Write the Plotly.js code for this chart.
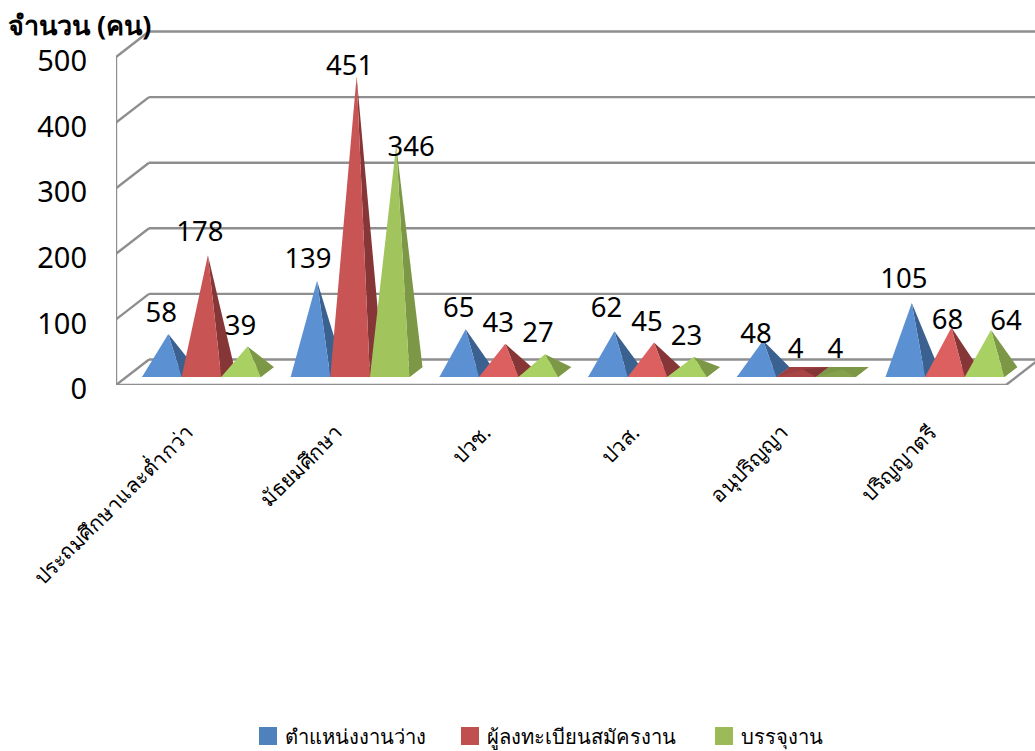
<!DOCTYPE html>
<html><head><meta charset="utf-8"><script src="https://cdn.plot.ly/plotly-3.0.1.min.js"></script>
<style>html,body{margin:0;padding:0;background:#fff}</style></head><body><div id="c" style="width:1035px;height:751px"></div>
<script>
const categories = ["ประถมศึกษาและต่ำกว่า","มัธยมศึกษา","ปวช.","ปวส.","อนุปริญญา","ปริญญาตรี"];
const vacancies = [58,139,65,62,48,105];
const applicants = [178,451,43,45,4,68];
const placed = [39,346,27,23,4,64];
const seriesNames = ["ตำแหน่งงานว่าง","ผู้ลงทะเบียนสมัครงาน","บรรจุงาน"];
const yTicks = [0,100,200,300,400,500];

// plot geometry (px -> data factors)
const PXX = 148.7, PXY = 0.656, PLOT_W = 919, PLOT_H = 367, PLOT_L = 116, PLOT_T = 18;
const px = p => p / PXX, py = p => p / PXY;
const barW = px(39.6), depthX = px(13), depthY = py(10), floorY = py(8);
const groupLeft = px(142 - 201.25);
const wallBackX = px(33), wallBackY = py(25.5);
const xMin = px(116 - 201.25), xMax = px(1035 - 201.25);
const FONT = "'Noto Sans', 'Open Sans', sans-serif";
const GRID = "#8e8e8e";

// label nudges in px, by "series-group"
const nudge = {"0-1":[-2,-1],"0-3":[-1,-2],"0-4":[0,14],"0-5":[-1,-3],"1-0":[-1,-2],"1-1":[0,11],"1-5":[3,13],"2-1":[22,23],"2-5":[22,12]};

const series = [
 {v:vacancies, f:"#5b90d2", fs:"#5b90d2", fl:"#5b90d2", s:"#3b6190", b:"#3b6190", leg:"#4f81bd"},
 {v:applicants, f:"#c95454", fs:"#dc6060", fl:"#a84444", s:"#863636", b:"#9e3f3f", leg:"#c0504d"},
 {v:placed, f:"#a2c45c", fs:"#a9d063", fl:"#83a24b", s:"#7c9846", b:"#7c9846", leg:"#9bbb59"}
];
const traces = [];
const poly = (x,y,c)=>({x,y,mode:"lines",fill:"toself",fillcolor:c,line:{width:0,color:c},showlegend:false,hoverinfo:"skip",type:"scatter"});
series.forEach((S, k) => {
  S.lx=[];S.ly=[];S.lt=[];
  S.v.forEach((val,i) => {
    const x0 = i + groupLeft + k*barW, x1 = x0 + barW;
    const ax = (x0+x1)/2 + depthX/2, ay = floorY + depthY/2 + val;
    const front = val < 10 ? S.fl : val < 100 ? S.fs : S.f;
    traces.push(
      poly([x0,x1,x1+depthX,x0+depthX,x0],[floorY,floorY,floorY+depthY,floorY+depthY,floorY],S.b),
      poly([x1,x1+depthX,ax,x1],[floorY,floorY+depthY,ay,floorY],S.s),
      poly([x0,x1,ax,x0],[floorY,floorY,ay,floorY],front));
    const n = nudge[k+"-"+i] || [0,0];
    S.lx.push(ax - px(7) + px(n[0])); S.ly.push(ay + py(5) - py(n[1])); S.lt.push(String(val));
  });
});
series.forEach(S=>traces.push({x:S.lx,y:S.ly,text:S.lt,mode:"text",textposition:"top center",textfont:{family:FONT,size:27.5,color:"#000"},showlegend:false,hoverinfo:"skip",type:"scatter",cliponaxis:false}));

const shapes = [];
const ln=(x0,y0,x1,y1)=>shapes.push({type:"line",xref:"x",yref:"y",x0,y0,x1,y1,layer:"below",line:{color:GRID,width:2.4}});
yTicks.forEach(t=>{
  ln(xMin,t,xMin+wallBackX,t+wallBackY);
  ln(xMin+wallBackX,t+wallBackY,xMax+1,t+wallBackY);
});
ln(xMin,0,xMin,500);
const floorRight = px(1006-201.25);
ln(xMin,0,floorRight,0);
ln(floorRight,0,floorRight+wallBackX,wallBackY);

// legend keys and labels, placed in page pixels
const paperX = p => (p - PLOT_L) / PLOT_W, paperY = p => (PLOT_T + PLOT_H - p) / PLOT_H;
const legendX = [259, 461, 715];
const legendTextX = [282.5, 485, 739];
const annotations = [{text:"<b>จำนวน (คน)</b>",xref:"paper",yref:"paper",x:paperX(6),xanchor:"left",y:paperY(25),yanchor:"middle",showarrow:false,font:{family:FONT,size:27,color:"#000"}}];
series.forEach((S,k)=>{
  shapes.push({type:"rect",xref:"paper",yref:"paper",x0:paperX(legendX[k]),x1:paperX(legendX[k]+18),y0:paperY(727),y1:paperY(745),fillcolor:S.leg,line:{width:0}});
  annotations.push({text:seriesNames[k],xref:"paper",yref:"paper",x:paperX(legendTextX[k]),xanchor:"left",y:paperY(736),yanchor:"middle",showarrow:false,font:{family:FONT,size:20.2,color:"#000"}});
});

const layout = {
  width:1035,height:751,paper_bgcolor:"#fff",plot_bgcolor:"rgba(0,0,0,0)",
  margin:{l:PLOT_L,r:0,t:PLOT_T,b:751-PLOT_T-PLOT_H,autoexpand:false},
  font:{family:FONT,color:"#000"},
  showlegend:false,
  xaxis:{range:[xMin,xMax],tickmode:"array",tickvals:categories.map((c,i)=>i),ticktext:categories,tickangle:-45,showgrid:false,zeroline:false,showline:false,ticks:"",ticklabelstandoff:30,ticklabelshift:-14,tickfont:{family:FONT,size:21,color:"#000"}},
  yaxis:{range:[0,PLOT_H/PXY],tickmode:"array",tickvals:yTicks,showgrid:false,zeroline:false,showline:false,ticks:"",ticklabelstandoff:28,ticklabelshift:4,tickfont:{family:FONT,size:29,color:"#000"}},
  shapes,annotations
};
Plotly.newPlot("c",traces,layout,{displayModeBar:false,staticPlot:true});
</script></body></html>
